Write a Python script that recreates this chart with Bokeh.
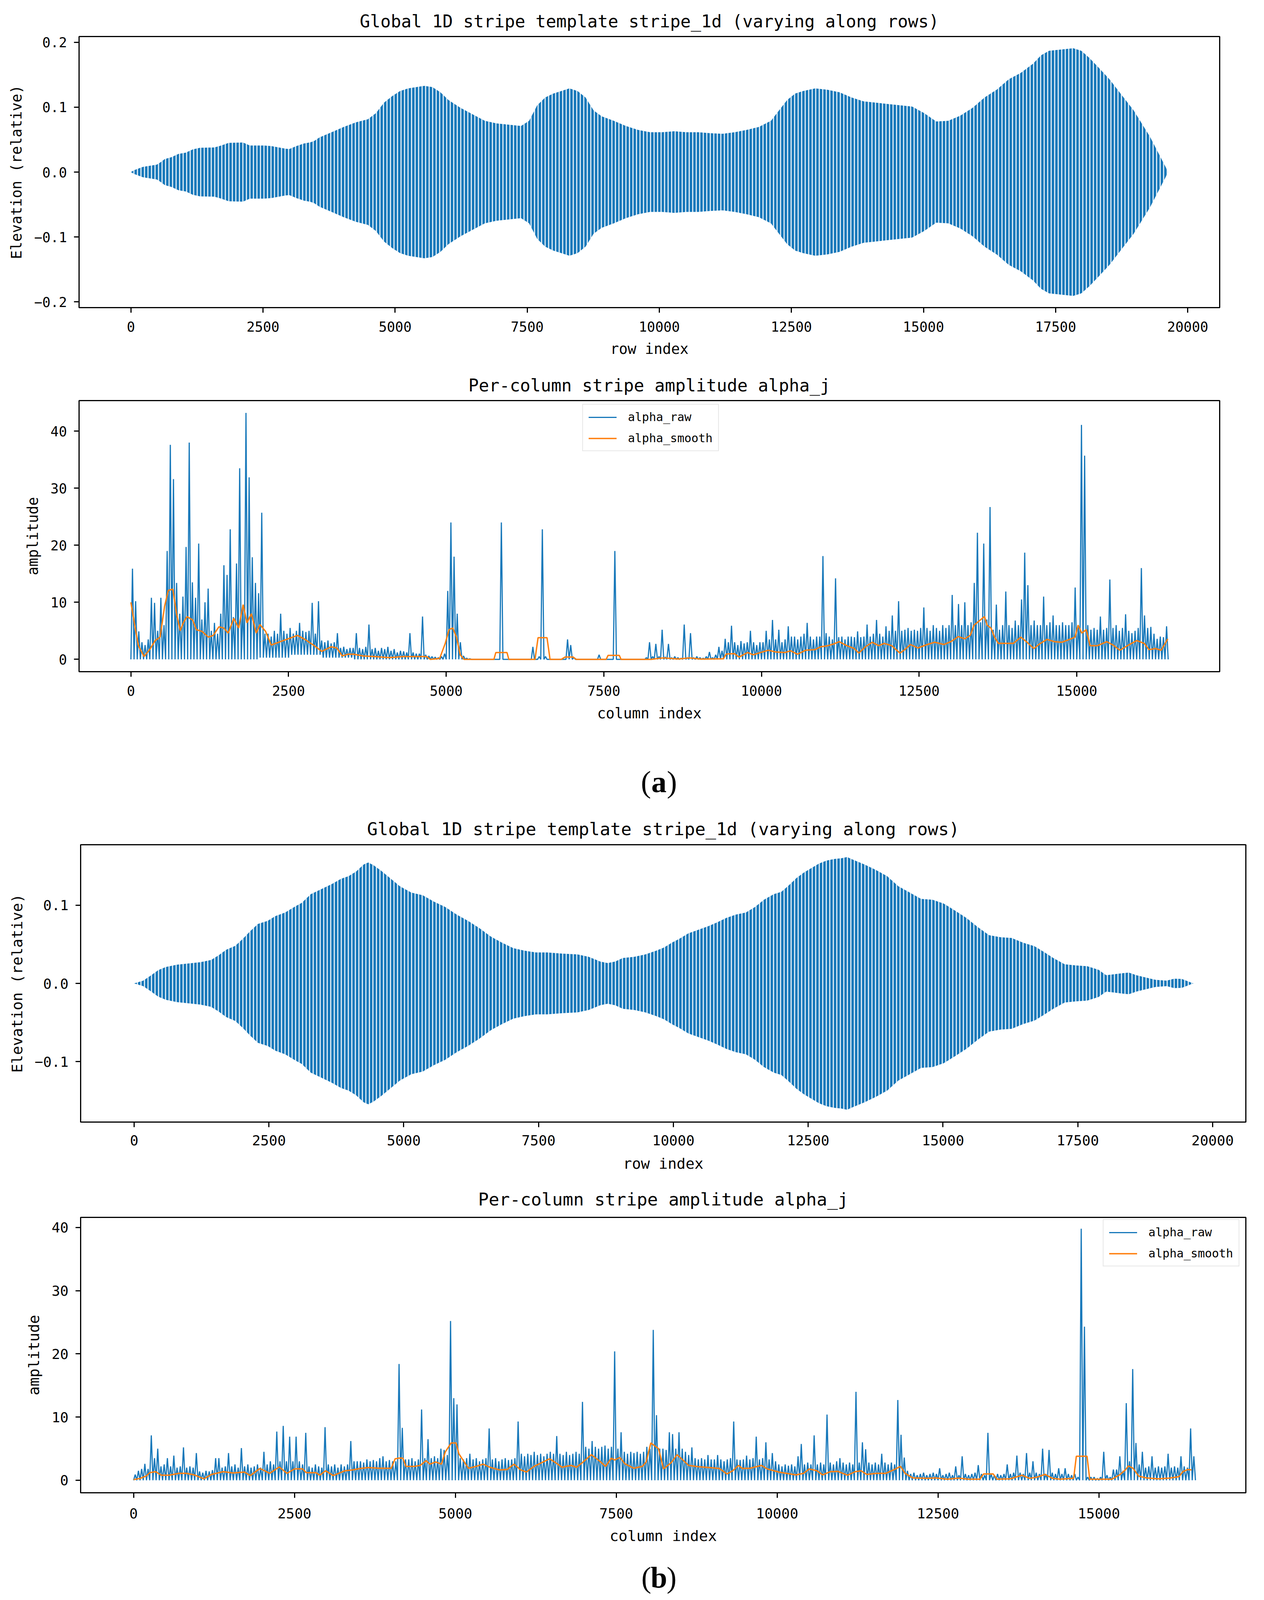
import numpy as np
from bokeh.plotting import figure
from bokeh.models import Range1d, FixedTicker, CustomJSTickFormatter
from bokeh.embed import file_html
from bokeh.resources import INLINE
from bokeh.core.properties import value

# ---------------- data ----------------
# (a) stripe template: envelope (peak amplitude) of the row-wise stripe oscillation
a_stripe_rows = [0,64,227,490,560,640,770,900,1040,1170,1310,1580,1710,1850,2120,2250,2520,2660,2930,3000,
                 3130,3270,3400,3470,3570,3799,4027,4256,4485,4638,4790,4943,5095,5248,5400,5553,5706,5858,6011,6240,
                 6468,6697,6926,7155,7384,7536,7689,7841,7994,8146,8299,8452,8604,8757,8909,9138,9367,9596,9825,10053,
                 10282,10511,10740,10969,11198,11426,11655,11884,12113,12265,12418,12571,12723,12952,13181,13410,13638,13867,14096,14325,
                 14554,14783,15011,15240,15469,15698,15927,16156,16384,16613,16842,17071,17223,17376,17605,17834,17986,18139,18291,18520,
                 18749,18978,19130,19283,19435,19588,19624]
a_stripe_amp = [0,0.003,0.008,0.0115,0.015,0.020,0.023,0.028,0.030,0.035,0.0375,0.038,0.041,0.045,0.0456,0.041,0.041,0.040,0.036,0.0355,
                0.040,0.044,0.046,0.048,0.0535,0.0615,0.0695,0.0767,0.0815,0.091,0.107,0.117,0.125,0.129,0.131,0.133,0.131,0.123,0.111,0.099,
                0.089,0.079,0.075,0.073,0.071,0.079,0.103,0.115,0.121,0.125,0.129,0.125,0.115,0.095,0.086,0.079,0.071,0.065,0.0615,0.0615,
                0.063,0.0615,0.0615,0.060,0.059,0.0615,0.065,0.0695,0.079,0.095,0.111,0.121,0.125,0.129,0.127,0.123,0.115,0.109,0.107,0.105,
                0.103,0.101,0.091,0.078,0.079,0.087,0.099,0.115,0.127,0.143,0.153,0.167,0.180,0.187,0.189,0.191,0.187,0.176,0.163,0.143,
                0.119,0.095,0.075,0.055,0.031,0.007,0.0]

# (b) stripe template envelope
b_stripe_rows = [0,168,308,448,588,798,1008,1218,1428,1568,1709,1877,2017,2157,2297,2479,2619,2801,2969,3109,
                 3277,3459,3669,3837,3977,4118,4258,4342,4440,4580,4762,4930,5140,5350,5560,5770,5980,6190,6400,6611,
                 6821,7031,7241,7451,7661,7941,8221,8431,8641,8782,8922,9062,9272,9482,9692,9832,9972,10112,10280,10462,
                 10644,10812,10980,11162,11345,11513,11681,11863,12003,12143,12283,12423,12563,12703,12843,12983,13123,13221,13333,13543,
                 13754,13964,14174,14384,14594,14804,15014,15224,15434,15644,15854,16064,16274,16484,16695,16863,17045,17255,17465,17675,
                 17885,18025,18165,18305,18445,18585,18725,18936,19146,19286,19426,19566,19644]
b_stripe_amp = [0,0.0035,0.010,0.017,0.021,0.024,0.0255,0.027,0.030,0.036,0.043,0.048,0.057,0.067,0.076,0.080,0.086,0.0906,0.0976,0.103,
                0.114,0.120,0.127,0.1336,0.137,0.143,0.152,0.1545,0.151,0.144,0.1336,0.124,0.116,0.1127,0.1045,0.0976,0.088,0.080,0.0708,0.060,
                0.052,0.045,0.0418,0.0395,0.0395,0.038,0.037,0.034,0.028,0.026,0.028,0.0325,0.034,0.037,0.042,0.046,0.052,0.057,0.064,0.0685,
                0.073,0.078,0.0836,0.088,0.0906,0.0976,0.107,0.114,0.117,0.1254,0.1347,0.1417,0.1475,0.1533,0.157,0.159,0.160,0.1615,0.158,0.152,
                0.145,0.137,0.124,0.116,0.108,0.107,0.102,0.093,0.0836,0.072,0.0616,0.059,0.058,0.052,0.0476,0.0406,0.0325,0.0244,0.023,0.022,
                0.0174,0.0105,0.0116,0.0128,0.0139,0.0105,0.0081,0.0046,0.0035,0.006,0.0058,0.002,0.0]

# (a) alpha_raw: maximum per 50-column bin, and low level per 500-column block
a_raw_bin_max = [15.9,10.2,4.9,3,2.5,3.5,10.8,9.9,5,10.8,
                 6,19,37.6,31.6,13.4,8,11,19.7,38,13.5,
                 10.8,20.3,7,10,12.4,5,6.4,4.5,8,16.5,
                 14.8,22.8,7.4,16.8,33.5,9,43.2,31.9,17.9,13.4,
                 11.6,25.7,4.5,4.5,4,5,4.5,8,5,4.5,
                 5.5,4.5,5,6.4,5,4.8,5,9.9,4.5,10.2,
                 3.3,3,3.3,2.8,3,4.6,2,2.2,1.8,2,
                 2,4.6,2,1.8,2.2,6.1,1.8,2,1.5,2,
                 1.8,2.2,1.5,1.8,1.2,1.5,1.4,1.2,4.6,1.2,
                 1,1,7.5,0.8,0.6,0.5,0.4,0.3,0.5,1,
                 12,24,18,8,3,0.6,0.2,0.1,0,0,
                 0,0,0,0,0,0,0,24,0,0,
                 0,0,0,0,0,0,0,2.2,0,0.5,
                 22.8,0.5,0,0,0,0,0,0,3.5,2.5,
                 0.3,0,0,0,0,0,0,0,0.8,0,
                 0,0,0,19,0,0,0,0,0,0,
                 0,0,0,0.3,3,0.5,2.7,0.5,5.2,0.4,
                 2.7,0.3,0.5,0.3,0.2,6.1,0.3,4.6,0.3,0.5,
                 0.3,0.2,0.5,1.3,0.3,0.8,2.2,1.5,3.6,3,
                 5.9,3,2.5,3.2,2.8,3,5,3,2.5,3,
                 3,5,3.5,6.9,3.5,5.2,3,3.5,5.8,4,
                 4,3.5,4,4.5,6.4,4,3.5,4,4,18.1,
                 4.6,4,3.5,14.2,3.9,4,3.5,4,4,3.9,
                 4.9,3.9,4,6.1,4,4.5,6.9,4.5,4,5.8,
                 5,7.7,5,10.2,5,5.2,5.5,5,5.2,5,
                 5.5,9.1,5.5,5,6,5.5,5,6,5.5,6,
                 11.3,6,9.7,6,10,6,6.5,13.4,22.2,6.5,
                 20.3,7,26.7,5.2,9.6,5.2,6,11.9,6,5.5,
                 6.8,6,10.5,18.7,13,6,6.8,6,6,11,
                 6,6.5,7.7,6,6,6.5,6,6,6.5,12.6,
                 6,41.1,35.7,6,5.2,5.5,5.2,7.5,5.2,5.5,
                 14,5.5,6,5,5.5,7.9,5,4.6,5,5.5,
                 16,7.7,5.5,5.7,4.5,3.6,4,3.9,5.8]
a_raw_block_low = [0,0,0,0,0.3,0.8,0.3,0,0,0,0,0,0,0,0,0,0,0,0,0,0,0,0,0,0,0,0,0,0,0,0,0,0]

a_smooth_cols = [0,60,119,208,297,386,463,534,593,665,724,783,831,890,979,1039,1128,1228,1306,1395,
                 1472,1543,1632,1709,1780,1840,1911,1988,2047,2136,2226,2344,2493,2641,2760,2908,3027,3175,3264,3353,
                 3442,3531,3680,3858,4095,4332,4570,4688,4748,4896,4985,5045,5104,5163,5223,5282,5757,5787,5964,5994,
                 6409,6457,6599,6647,6825,6885,7015,7062,7537,7567,7745,7774,8249,8360,8445,8682,8860,9039,9395,9442,
                 9573,9644,9780,9869,9988,10107,10226,10374,10463,10570,10700,10849,10938,11056,11145,11234,11353,11472,11543,11650,
                 11757,11858,11947,12065,12196,12273,12362,12481,12629,12748,12896,13003,13122,13223,13312,13371,13460,13537,13579,13638,
                 13697,13757,13875,13994,14113,14202,14320,14409,14528,14647,14766,14884,14973,15021,15080,15151,15211,15329,15477,15578,
                 15685,15804,15953,16071,16148,16249,16338,16445]
a_smooth_vals = [10,6,2.4,0.5,1.7,3.3,3.9,9.3,12.1,12.3,8,5,6.4,7.5,6.9,5.2,4.9,3.9,4.2,5.7,
                 5.5,4.6,7.2,5.5,9.6,6.4,8,4.6,6.1,4.9,2.5,3,3.6,4.2,3.5,2.4,1.4,2.2,2.0,0.6,
                 0.9,0.9,0.6,0.5,0.3,0.5,0.5,0.5,0,0.15,2.8,5.2,5.5,3.9,0.8,0,0,1.2,1.2,0,
                 0,3.8,3.8,0,0,0.4,0.4,0,0,0.7,0.7,0,0,0.15,0.25,0.06,0.25,0.05,0.1,0.94,
                 1.0,0.4,1.2,0.8,1.2,1.6,1.3,1.2,1.5,0.9,1.6,1.7,2.2,2.4,2.7,3.1,2.4,1.9,1.1,2.2,
                 3.0,2.4,2.8,2.4,1.1,1.7,2.6,2.0,2.6,3.0,2.6,3.1,4.0,3.6,4.2,6.0,6.8,7.5,6.0,5.5,
                 3.9,2.8,2.8,2.8,3.9,3.1,1.9,2.7,3.5,3.1,3.0,3.5,3.9,6.0,4.6,5.2,2.4,2.4,3.1,2.5,
                 1.6,2.4,3.3,2.8,1.7,1.9,1.6,3.6]

# (b) alpha_raw: maximum per 50-column bin, and low level per 500-column block
b_raw_bin_max = [0.9,1.5,1.8,2.6,1.8,7.1,3.5,5,2.2,2.5,
                 3.5,2.2,3.9,2,2.2,5.2,2,2.2,2,4.3,
                 1.4,1.2,1.5,1.4,1.6,3.5,3.5,2,2.2,4.3,
                 2.2,2.5,2,5.1,2.2,2.5,2,2.2,2.5,2,
                 4.5,2.5,3,2.5,7.7,3,8.6,3,6.9,3,
                 6.9,3,2.5,7.5,2.2,2,2.5,2.2,2,8.4,
                 2.5,2.2,2.5,2,2.5,2.2,2.5,6.2,3,3,
                 3,2.8,3.3,3,3.2,3,3.5,3.8,3,3.2,
                 3,3,18.4,8.3,3.3,3.3,3.5,3,3.3,11.2,
                 3.5,6.5,3.5,3.8,3.5,5,4.8,4,25.2,13,
                 12,3.5,3.3,3.5,4.2,3.3,3.5,3,3.3,3.5,
                 8.2,3.3,3.5,3,3.3,3.5,3.2,3.3,3.5,9.3,
                 4.2,3.8,4.2,4,4.5,4,4.2,3.8,4.2,4.5,
                 4.2,7,4.2,4,4.5,4,4.2,4.5,4.2,12.4,
                 5.3,5,6.2,5.3,5,5.3,5.5,5,5.3,20.4,
                 5,7.6,4.5,4.2,4.5,4.3,4.5,4.2,4.5,5.3,
                 5,23.8,10.3,5,5,4.8,7.6,7.3,5,7.6,
                 5,4.5,4,5.2,3.5,3.3,3.5,3.3,4,3.3,
                 3.3,4,3.3,3,3.3,3.5,9.3,3.3,3.2,3.3,
                 3.9,3.3,3.5,6.9,3.3,3.5,6,3.3,4.3,3,
                 2.5,2.2,2.5,2.3,2.5,2.2,3.8,5.75,2.5,2.8,
                 2.5,7.1,2.5,2.8,2.5,10.4,2.8,2.5,3,3.5,
                 2.8,2.5,2.8,2.5,14,2.8,6,4.9,2.8,2.5,
                 2.8,2.5,4.2,2.8,2.5,2.8,2.5,12.7,7.2,3.6,
                 1.5,1,1.2,0.8,1,1.2,0.8,1,1.2,1,
                 1.9,0.8,1,1.2,0.8,2.2,0.8,3.8,1,0.8,
                 1,1.2,2.4,1,0.8,7.5,1,0.8,1,0.8,
                 1,2.5,1,1.2,3.9,1.2,1,4.3,1.2,3,
                 1.2,1,5,1,4.8,1.2,1,1.9,1,1.9,
                 1,0.8,1,0.5,39.8,24.3,0.5,0.5,0.5,0.3,
                 0.5,4.5,0.8,0.5,1.7,1.7,3.8,1.5,12.2,3,
                 17.6,5.9,2.5,4.5,2,2.2,3.8,2,2.2,2,
                 2.2,4.2,2,2.2,2,3.8,2.2,2,8.2,3.8]
b_raw_block_low = [0]*33

b_smooth_cols = [0,102,192,252,342,432,552,702,822,942,1092,1212,1393,1543,1723,1813,1963,2113,2263,2383,
                 2503,2623,2683,2833,2893,2983,3103,3283,3403,3523,3643,3823,4004,4064,4124,4184,4232,4364,4454,4544,
                 4604,4694,4784,4844,4934,5012,5054,5144,5204,5324,5432,5534,5684,5804,5912,6014,6104,6224,6344,6464,
                 6555,6657,6795,6885,6975,7113,7245,7335,7425,7473,7557,7635,7773,7905,7965,8037,8157,8235,8355,8445,
                 8536,8625,8774,8952,9101,9220,9309,9399,9458,9577,9756,9845,10024,10143,10292,10411,10500,10619,10708,10827,
                 10946,11095,11214,11304,11393,11542,11690,11810,11917,11988,12107,12345,12464,12643,12821,12970,13149,13208,13357,13417,
                 13625,13804,13923,14042,14161,14280,14399,14607,14649,14815,14857,15202,15321,15411,15458,15530,15619,15738,15917,16095,
                 16244,16304,16381,16440]
b_smooth_vals = [0.1,0.3,0.65,1.2,1.36,0.8,0.8,1.1,1.1,0.85,0.23,0.93,1.36,1.16,1.3,0.74,1.87,1.1,2.1,1.1,
                 1.8,1.8,1.2,1.2,0.8,1.5,0.74,1.5,1.64,1.87,2.0,1.9,1.9,3.4,3.5,3.5,2.2,2.2,2.35,3.1,
                 2.55,2.9,2.55,4.5,5.9,5.9,4.2,2.8,1.9,2.2,2.55,2.07,1.64,1.7,2.55,1.64,1.3,2.2,2.8,3.4,
                 2.8,2.07,2.35,2.07,2.8,4.05,3.0,2.2,3.5,3.2,3.6,2.6,1.9,2.2,2.9,5.9,5.0,1.8,2.8,4.05,
                 3.2,2.35,2.15,2.0,1.87,1.0,1.5,2.35,1.87,1.9,2.35,1.8,1.3,1.1,0.85,1.1,1.8,1.5,0.85,1.36,
                 1.4,0.8,1.36,1.5,0.93,1.1,1.1,1.64,2.2,1.1,0.37,0.3,0.37,0.17,0.34,0.17,0.17,1.0,1.0,0.17,
                 0.23,0.8,0.3,0.5,0.93,0.3,0.17,0.3,3.8,3.8,0.17,0.17,0.85,1.64,2.27,1.9,0.65,0.37,0.23,0.34,
                 0.57,1.36,1.7,1.64]

row_ticks = [0, 2500, 5000, 7500, 10000, 12500, 15000, 17500, 20000]
col_ticks = [0, 2500, 5000, 7500, 10000, 12500, 15000]
a_elev_ticks = [-0.2, -0.1, 0.0, 0.1, 0.2]
b_elev_ticks = [-0.1, 0.0, 0.1]
amp_ticks = [0, 10, 20, 30, 40]

TITLE_STRIPE = "Global 1D stripe template stripe_1d (varying along rows)"
TITLE_ALPHA = "Per-column stripe amplitude alpha_j"

# ---------------- styling ----------------
BLUE = "#1778ba"
ORANGE = "#ff7f0e"
MONO = "DejaVu Sans Mono"
W = 3221

minus_fmt = CustomJSTickFormatter(code="""
const s = Math.abs(tick).toFixed(1);
return tick < -1e-12 ? '\\u2212' + s : s;
""")


def base_fig(height, left, right, top, bottom, xr, yr, title, fs, xlabel, ylabel, xticks, yticks, st):
    tick_fs, label_fs, title_fs = fs
    title_st, xtick_st, xlab_st = st
    p = figure(width=W, height=height, x_range=Range1d(*xr), y_range=Range1d(*yr),
               output_backend="svg", toolbar_location=None,
               min_border_left=left, min_border_right=right,
               min_border_top=top, min_border_bottom=bottom)
    p.grid.visible = False
    p.background_fill_color = "white"
    p.border_fill_color = "white"
    p.outline_line_color = "black"
    p.outline_line_width = 3
    p.outline_line_alpha = 1
    p.title.text = title
    p.title.align = "center"
    p.title.text_font = MONO
    p.title.text_font_size = f"{title_fs}px"
    p.title.text_font_style = "normal"
    p.title.text_color = "black"
    p.title.standoff = title_st
    for ax in p.axis:
        ax.axis_line_width = 3
        ax.axis_line_color = "black"
        ax.major_tick_line_width = 3
        ax.major_tick_line_color = "black"
        ax.major_tick_out = 13
        ax.major_tick_in = 0
        ax.minor_tick_line_color = None
        ax.major_label_text_font = MONO
        ax.major_label_text_font_size = f"{tick_fs}px"
        ax.major_label_text_color = "black"
        ax.axis_label_text_font = MONO
        ax.axis_label_text_font_size = f"{label_fs}px"
        ax.axis_label_text_font_style = "normal"
        ax.axis_label_text_color = "black"
    p.xaxis.axis_label = xlabel
    p.yaxis.axis_label = ylabel
    p.xaxis.ticker = FixedTicker(ticks=xticks)
    p.yaxis.ticker = FixedTicker(ticks=yticks)
    p.xaxis.major_label_standoff = xtick_st
    p.yaxis.major_label_standoff = 18
    p.xaxis.axis_label_standoff = xlab_st
    p.yaxis.axis_label_standoff = 20
    return p


def stripe_fig(height, left, right, top, bottom, xr, yr, fs, st, rows, amp, yticks):
    p = base_fig(height, left, right, top, bottom, xr, yr, TITLE_STRIPE, fs,
                 "row index", "Elevation (relative)", row_ticks, yticks, st)
    p.yaxis.formatter = minus_fmt
    amp = np.asarray(amp, float)
    p.varea(x=rows, y1=-amp, y2=amp, fill_alpha=0.0,
            hatch_pattern="vertical_line", hatch_color=BLUE,
            hatch_weight=6.5, hatch_scale=9, hatch_alpha=1.0)
    return p


def zigzag(bin_max, block_low, binw=50):
    hi = np.asarray(bin_max, float)
    low = np.asarray(block_low, float)
    n = len(hi)
    idx = np.arange(n)
    xs = np.empty(2 * n + 1)
    ys = np.empty(2 * n + 1)
    xs[0], ys[0] = 0.0, low[0]
    xs[1::2] = idx * binw + binw / 2
    ys[1::2] = hi
    xs[2::2] = (idx + 1) * binw
    ys[2::2] = low[np.minimum(idx // 10, len(low) - 1)]
    return xs, ys


def alpha_fig(height, left, right, top, bottom, xr, yr, fs, st, raw_max, raw_low, s_cols, s_vals, loc):
    p = base_fig(height, left, right, top, bottom, xr, yr, TITLE_ALPHA, fs,
                 "column index", "amplitude", col_ticks, amp_ticks, st)
    xs, ys = zigzag(raw_max, raw_low)
    p.line(xs, ys, line_color=BLUE, line_width=3, legend_label="alpha_raw")
    p.line(s_cols, s_vals, line_color=ORANGE, line_width=3.5, legend_label="alpha_smooth")
    lg = p.legend[0]
    lg.location = loc
    lg.label_text_font = MONO
    lg.label_text_font_size = "30px"
    lg.label_text_color = "black"
    lg.glyph_width = 72
    lg.glyph_height = 30
    lg.label_height = 30
    lg.label_standoff = 29
    lg.spacing = 19
    lg.padding = 14
    lg.margin = 0
    lg.border_line_color = "#cfcfcf"
    lg.border_line_width = 2
    lg.background_fill_alpha = 0.8
    return p


def label_fig(height, baseline, letter, size=78, cx=1687):
    p = figure(width=W, height=height, x_range=Range1d(0, W), y_range=Range1d(0, height),
               output_backend="svg", toolbar_location=None, min_border=0, title=None,
               x_axis_type=None, y_axis_type=None)
    p.outline_line_color = None
    p.grid.visible = False
    serif = value("Liberation Serif")
    half = size * 0.26
    fsz = f"{size}px"
    p.text(x=[cx - half], y=[baseline], text=["("], text_align="right", text_baseline="alphabetic",
           text_font=serif, text_font_size=fsz, text_color="black")
    p.text(x=[cx], y=[baseline], text=[letter], text_align="center", text_baseline="alphabetic",
           text_font=serif, text_font_size=fsz, text_font_style="bold", text_color="black")
    p.text(x=[cx + half], y=[baseline], text=[")"], text_align="left", text_baseline="alphabetic",
           text_font=serif, text_font_size=fsz, text_color="black")
    return p


fa = (35, 37, 44)
fb = (36, 38, 45)

a1 = stripe_fig(922, 202, 98, 93, 135, (-981, 20605), (-0.209, 0.209), fa, (27, 22, 20),
                a_stripe_rows, a_stripe_amp, a_elev_ticks)
a2 = alpha_fig(950, 202, 98, 103, 153, (-822, 17267), (-2.16, 45.36), fa, (28, 22, 21),
               a_raw_bin_max, a_raw_block_low, a_smooth_cols, a_smooth_vals, (1289, 564))
la = label_fig(200, 71, "a")
b1 = stripe_fig(940, 206, 31, 90, 140, (-992, 20616), (-0.1772, 0.1772), fb, (27, 20, 22),
                b_stripe_rows, b_stripe_amp, b_elev_ticks)
b2 = alpha_fig(944, 206, 31, 104, 135, (-823, 17283), (-1.98, 41.6), fb, (40, 26, 20),
               b_raw_bin_max, b_raw_block_low, b_smooth_cols, b_smooth_vals, (2618, 579))
lb = label_fig(130, 49, "b", size=76)

# separate roots (stacked vertically) so that each plot keeps its own frame geometry
open("out.html", "w").write(file_html([a1, a2, la, b1, b2, lb], INLINE, title="stripe"))
